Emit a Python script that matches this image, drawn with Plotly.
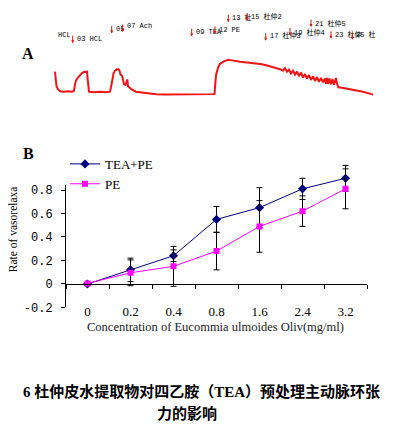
import plotly.graph_objects as go

PAGE_W, PAGE_H = 399, 435
OFF = 8  # default body margin of the html page
W, H = PAGE_W - 2 * OFF, PAGE_H - 2 * OFF  # figure fits the window exactly

# ---------------- Panel B data ----------------
conc_labels = ["0", "0.2", "0.4", "0.8", "1.6", "2.4", "3.2"]
tea_pe = [0.0, 0.12, 0.24, 0.55, 0.65, 0.81, 0.90]
tea_pe_err = [0.0, 0.10, 0.05, 0.11, 0.17, 0.09, 0.11]
pe = [0.005, 0.095, 0.15, 0.28, 0.49, 0.62, 0.81]
pe_err = [0.0, 0.11, 0.17, 0.16, 0.22, 0.13, 0.17]
y_tickvals = [-0.2, 0, 0.2, 0.4, 0.6, 0.8]
y_ticktext = ["-0.2", "0", "0.2", "0.4", "0.6", "0.8"]

# ---------------- Panel A data (tension trace) ----------------
trace_time = [55, 55.5, 56.5, 58, 60, 64, 68, 72, 74, 75, 76, 78, 80, 82, 84, 86, 87, 87.7, 88.3, 89,
              94, 100, 106, 110, 111, 112, 113.5, 115, 117, 118.5, 119.5, 120.5, 122, 123, 124, 125.5,
              126.5, 127.3, 128, 129.5, 132, 136, 142, 150, 156, 165, 180, 195, 205, 213, 214.5, 215,
              216, 218, 220, 224, 228, 232, 236, 240, 245, 250, 256, 262, 268, 274, 280,
              283, 285, 287, 289, 291, 293, 295, 297, 299, 301, 303, 305, 307, 309, 311, 313, 315, 317,
              319, 321, 323, 325, 326, 327, 328, 329.5, 331, 332.5, 334, 335, 336, 337, 338.3, 342,
              347, 353, 358, 363, 368, 373]
trace_tension = [28, 20, 13, 10, 8, 7.5, 8, 7.5, 8.5, 15, 19, 22, 24.5, 26.5, 27.7, 28.2, 28, 20, 10, 7.5,
                 7, 7.5, 7, 7.5, 12, 20, 26, 29, 30.5, 30.5, 29, 25, 24, 20, 15, 14.5,
                 19, 20, 13, 11.5, 9.5, 7.5, 6.5, 5.5, 4.8, 4.5, 4.5, 4.5, 4.6, 4.8, 5, 12,
                 24, 32, 36, 38.5, 40, 39.5, 38.5, 38, 37.5, 37, 36.5, 35.5, 34, 32.5, 30.5,
                 29, 31.5, 28, 30, 26, 29, 25, 28, 23.5, 27, 22, 25.5, 21, 24.5, 19.5, 23, 18.5, 22.5,
                 17.5, 21.5, 17, 21, 15.5, 21.5, 15.5, 21, 15, 20.5, 14.5, 20, 21.5, 16, 12, 11.5,
                 10.5, 10, 8.5, 7.5, 6, 4.5]

event_labels = ["HCL", "03 HCL", "05", "07 Ach", "09 TEA", "12 PE", "13 杜", "15 杜仲2",
                "17 杜仲3", "19 杜仲4", "21 杜仲5", "23 杜仲", "25 杜"]
event_times = [None, 72.7, 111.7, 122.7, 191.7, 215, 228.3, 247.3, 265.7, 290, 311, 331, 352.3]
event_text_x = [56, 75, 113.5, 124.5, 193.5, 217, 230, 249, 268, 292, 313, 333, 354]
event_text_lvl = [65.5, 61.5, 71.5, 74.3, 68.5, 71, 83.5, 84.5, 65, 68.5, 77, 66, 66]
event_arrow_lvl = [None, 57, 67, 68.5, 64, 66.5, 78.5, 80, 59.5, 65, 73.5, 61.5, 60.5]


def fx(p):
    return (p - OFF) / W


def fy(p):
    return 1 - (p - OFF) / H


fig = go.Figure()

# Panel A trace
fig.add_trace(go.Scatter(x=trace_time, y=trace_tension, mode="lines",
                         line=dict(color="#f01414", width=2), xaxis="x3", yaxis="y3",
                         showlegend=False, hoverinfo="skip"))

# Panel B series
fig.add_trace(go.Scatter(x=conc_labels, y=tea_pe, name="TEA+PE", mode="lines+markers",
                         line=dict(color="#000080", width=1),
                         marker=dict(symbol="diamond", size=7, color="#000080"),
                         error_y=dict(type="data", array=tea_pe_err, color="black", thickness=1, width=3)))
fig.add_trace(go.Scatter(x=conc_labels, y=pe, name="PE", mode="lines+markers",
                         line=dict(color="#ff00ff", width=1),
                         marker=dict(symbol="square", size=6, color="#ff00ff"),
                         error_y=dict(type="data", array=pe_err, color="black", thickness=1, width=3)))
# dummy traces so helper axes are drawn
fig.add_trace(go.Scatter(x=[None], y=[None], xaxis="x", yaxis="y2", showlegend=False, hoverinfo="skip"))
fig.add_trace(go.Scatter(x=[None], y=[None], xaxis="x2", yaxis="y", showlegend=False, hoverinfo="skip"))

px_top, px_zero, px_bot, px_axtop = 165.4, 289.0, 313.0, 188.0
unit = (px_bot - px_zero) / 0.2
ymin = -0.2
ymax = (px_zero - px_top) / unit
yaxtop = (px_zero - px_axtop) / unit
xl, xr = fx(66), fx(367)
dom_b = fy(px_bot)
dom_t = fy(px_top)
dom_t2 = fy(px_axtop)

serif = "Liberation Serif, Times New Roman, serif"
mono = "Liberation Mono, Courier New, monospace"

fig.update_layout(
    width=W, height=H, margin=dict(l=0, r=0, t=0, b=0),
    paper_bgcolor="white", plot_bgcolor="rgba(0,0,0,0)",
    showlegend=True,
    legend=dict(x=fx(65), y=fy(151), xanchor="left", yanchor="top",
                bgcolor="rgba(0,0,0,0)", font=dict(family=serif, size=13, color="black"),
                tracegroupgap=0, itemwidth=30),
    xaxis=dict(domain=[xl, xr], type="category", range=[-0.5, 6.5], anchor="free",
               position=fy(307), showline=False, showgrid=False, zeroline=False, ticks="",
               tickfont=dict(family=serif, size=13, color="black")),
    xaxis2=dict(domain=[xl, xr], overlaying="x", range=[-0.5, 6.5], anchor="free",
                position=fy(px_zero), showline=True, linecolor="black", linewidth=1,
                ticks="outside", ticklen=4, tickcolor="black", tickvals=[-0.5 + i for i in range(8)],
                showticklabels=False, showgrid=False, zeroline=False),
    yaxis=dict(domain=[dom_b, dom_t], range=[ymin, ymax], visible=False, anchor="x"),
    yaxis2=dict(domain=[dom_b, dom_t2], range=[ymin, yaxtop], anchor="x",
                showline=True, linecolor="black", linewidth=1, ticks="outside", ticklen=4,
                tickcolor="black", tickvals=y_tickvals, ticktext=y_ticktext,
                tickfont=dict(family=mono, size=12, color="black"), ticklabelstandoff=6,
                showgrid=False, zeroline=False),
    # panel A: x in trace time units (= reference pixel columns), y tension = 100 - pixel row
    xaxis3=dict(domain=[0, 1], range=[OFF, OFF + W], visible=False, anchor="y3"),
    yaxis3=dict(domain=[fy(110), 1], range=[100 - 110, 100 - OFF], visible=False, anchor="x3"),
)

ann = []


def paper_text(text, x, y, font, angle=0):
    return dict(text=text, x=fx(x), y=fy(y), xref="paper", yref="paper", xanchor="center",
                yanchor="middle", showarrow=False, textangle=angle, font=font)


ann.append(paper_text("<b>A</b>", 28, 53, dict(family=serif, size=16, color="black")))
ann.append(paper_text("<b>B</b>", 28, 156, dict(family=serif, size=16, color="black")))
ann.append(paper_text("Rate of vasorelaxa", 13, 233, dict(family=serif, size=11.5, color="black"), -90))
ann.append(paper_text("Concentration of Eucommia ulmoides Oliv(mg/ml)", 215, 333,
                      dict(family=serif, size=12.5, color="#222222")))
cap_font = dict(family="Liberation Serif, Noto Sans CJK SC", size=15, color="black")
ann.append(paper_text("<b>6 杜仲皮水提取物对四乙胺（TEA）预处理主动脉环张</b>", 201, 399, cap_font))
ann.append(paper_text("<b>力的影响</b>", 186.5, 421.5, cap_font))

lab_font = dict(family="Liberation Mono, Noto Sans CJK SC", size=7, color="black")
for lab, t, tx, tl, al in zip(event_labels, event_times, event_text_x, event_text_lvl, event_arrow_lvl):
    ann.append(dict(text=lab, x=tx, y=tl, xref="x3", yref="y3", xanchor="left", yanchor="middle",
                    showarrow=False, font=lab_font))
    if t is not None:
        ann.append(dict(text="", x=t, y=al, xref="x3", yref="y3", ax=0, ay=-9, showarrow=True,
                        arrowhead=2, arrowsize=0.6, arrowwidth=1, arrowcolor="#e01010"))

fig.update_layout(annotations=ann)
fig.write_html("out.html")
